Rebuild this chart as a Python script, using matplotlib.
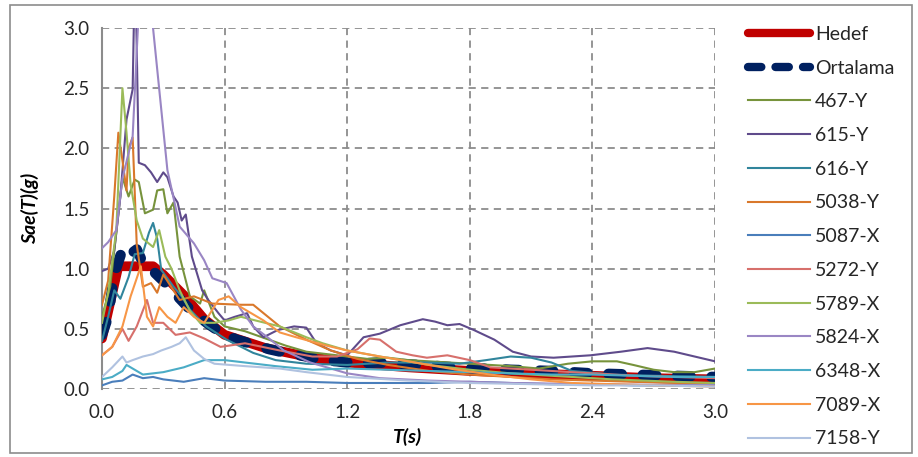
import matplotlib
matplotlib.use("Agg")
import matplotlib.pyplot as plt
from matplotlib.patches import Rectangle
from matplotlib.lines import Line2D

plt.rcParams['font.family'] = ['Lato', 'DejaVu Sans']

# ---------------- data ----------------
hedef_T = [0, 0.08, 0.25, 0.3, 0.4, 0.5, 0.6, 0.8, 1.0, 1.2, 1.5, 1.8, 2.1, 2.4, 2.7, 3.0]
hedef_S = [0.42, 1.02, 1.02, 0.95, 0.78, 0.58, 0.45, 0.34, 0.27, 0.22, 0.18, 0.15, 0.13, 0.11, 0.09, 0.08]

ort_T = [0, 0.03, 0.06, 0.1, 0.13, 0.17, 0.2, 0.25, 0.28, 0.33, 0.37, 0.42, 0.46, 0.52, 0.59, 0.66,
         0.74, 0.82, 0.9, 1.0, 1.07, 1.15, 1.25, 1.35, 1.45, 1.55, 1.65, 1.8, 1.9, 2.0, 2.2, 2.4,
         2.6, 2.8, 3.0]
ort_S = [0.45, 0.6, 0.95, 1.16, 1.11, 1.16, 1.05, 0.98, 0.93, 0.85, 0.77, 0.68, 0.62, 0.54, 0.46, 0.41,
         0.37, 0.33, 0.30, 0.27, 0.24, 0.23, 0.21, 0.22, 0.21, 0.20, 0.19, 0.17, 0.17, 0.16, 0.15, 0.13,
         0.12, 0.11, 0.10]

r467_T = [0, 0.04, 0.07, 0.1, 0.13, 0.16, 0.18, 0.21, 0.25, 0.27, 0.3, 0.32, 0.35, 0.38, 0.43, 0.48,
          0.5, 0.55, 0.6, 0.7, 0.8, 0.9, 1.0, 1.1, 1.2, 1.3, 1.4, 1.5, 1.6, 1.7, 1.8, 1.9, 2.0, 2.14,
          2.28, 2.4, 2.52, 2.6, 2.7, 2.8, 2.9, 3.0]
r467_S = [0.6, 0.85, 1.3, 1.76, 1.6, 1.74, 1.72, 1.46, 1.49, 1.65, 1.66, 1.46, 1.55, 1.1, 0.77, 0.71,
          0.82, 0.6, 0.52, 0.48, 0.42, 0.36, 0.31, 0.29, 0.27, 0.25, 0.26, 0.24, 0.23, 0.22, 0.21, 0.2,
          0.19, 0.17, 0.21, 0.23, 0.23, 0.2, 0.16, 0.14, 0.14, 0.17]

r615_T = [0, 0.03, 0.06, 0.09, 0.12, 0.15, 0.162, 0.18, 0.21, 0.24, 0.27, 0.3, 0.32, 0.35, 0.37, 0.39,
          0.41, 0.44, 0.49, 0.52, 0.57, 0.6, 0.65, 0.71, 0.74, 0.79, 0.86, 0.94, 1.0, 1.05, 1.12, 1.2,
          1.28, 1.36, 1.46, 1.57, 1.63, 1.69, 1.75, 1.82, 1.92, 2.01, 2.1, 2.21, 2.39, 2.54, 2.67, 2.8,
          2.9, 3.0]
r615_S = [0.98, 1.0, 1.15, 1.6, 2.24, 2.49, 3.6, 1.88, 1.86, 1.8, 1.72, 1.80, 1.76, 1.6, 1.55, 1.40,
          1.45, 1.10, 0.82, 0.74, 0.63, 0.57, 0.6, 0.63, 0.52, 0.43, 0.49, 0.52, 0.51, 0.38, 0.32, 0.28,
          0.43, 0.46, 0.53, 0.58, 0.56, 0.53, 0.54, 0.49, 0.41, 0.31, 0.27, 0.26, 0.28, 0.31, 0.34, 0.31,
          0.27, 0.23]

r616_T = [0, 0.03, 0.06, 0.09, 0.13, 0.16, 0.2, 0.23, 0.25, 0.27, 0.29, 0.32, 0.35, 0.39, 0.43, 0.51,
          0.61, 0.74, 0.85, 1.0, 1.2, 1.4, 1.6, 1.75, 1.88, 2.0, 2.1, 2.2, 2.3, 2.5, 2.7, 3.0]
r616_S = [0.4, 0.6, 0.82, 0.75, 0.93, 1.12, 1.13, 1.3, 1.38, 1.25, 0.99, 0.92, 0.85, 0.77, 0.66, 0.52,
          0.41, 0.3, 0.24, 0.21, 0.2, 0.22, 0.22, 0.21, 0.24, 0.27, 0.26, 0.22, 0.15, 0.12, 0.11, 0.1]

r5038_T = [0, 0.03, 0.06, 0.08, 0.1, 0.12, 0.13, 0.15, 0.17, 0.2, 0.24, 0.27, 0.3, 0.38, 0.45, 0.54,
           0.68, 0.74, 0.87, 1.0, 1.12, 1.25, 1.4, 1.6, 1.8, 2.0, 2.2, 2.4, 2.6, 2.8, 3.0]
r5038_S = [0.7, 0.9, 1.6, 2.13, 1.9, 1.65, 2.0, 2.09, 1.2, 0.85, 0.88, 0.8, 0.95, 0.74, 0.77, 0.71,
           0.70, 0.70, 0.52, 0.41, 0.32, 0.25, 0.2, 0.15, 0.12, 0.1, 0.08, 0.07, 0.06, 0.05, 0.05]

r5087_T = [0, 0.05, 0.1, 0.15, 0.2, 0.25, 0.3, 0.4, 0.5, 0.6, 0.8, 1.0, 1.2, 1.4, 1.6, 1.8, 2.0, 2.2,
           2.4, 2.6, 2.8, 3.0]
r5087_S = [0.03, 0.06, 0.07, 0.12, 0.09, 0.1, 0.08, 0.06, 0.09, 0.07, 0.06, 0.06, 0.05, 0.05, 0.05,
           0.06, 0.05, 0.04, 0.04, 0.03, 0.03, 0.03]

r5272_T = [0, 0.05, 0.1, 0.13, 0.17, 0.22, 0.25, 0.3, 0.36, 0.43, 0.5, 0.58, 0.7, 0.87, 1.03, 1.15,
           1.25, 1.31, 1.36, 1.44, 1.52, 1.59, 1.69, 1.8, 1.9, 2.0, 2.2, 2.4, 2.6, 2.8, 3.0]
r5272_S = [0.28, 0.35, 0.5, 0.4, 0.52, 0.74, 0.55, 0.55, 0.45, 0.47, 0.42, 0.35, 0.38, 0.32, 0.27, 0.27,
           0.33, 0.42, 0.41, 0.31, 0.28, 0.26, 0.28, 0.24, 0.18, 0.17, 0.15, 0.13, 0.11, 0.1, 0.09]

r5789_T = [0, 0.03, 0.07, 0.1, 0.12, 0.14, 0.17, 0.2, 0.25, 0.28, 0.31, 0.34, 0.38, 0.43, 0.48, 0.55,
           0.62, 0.68, 0.75, 0.87, 1.0, 1.08, 1.2, 1.36, 1.6, 1.8, 2.0, 2.2, 2.5, 2.8, 3.0]
r5789_S = [0.55, 0.8, 1.32, 2.5, 2.13, 1.7, 1.4, 1.25, 1.18, 1.32, 1.1, 1.0, 0.82, 0.65, 0.55, 0.55,
           0.57, 0.6, 0.57, 0.52, 0.43, 0.38, 0.32, 0.27, 0.2, 0.16, 0.13, 0.11, 0.08, 0.06, 0.05]

r5824_T = [0, 0.03, 0.07, 0.1, 0.13, 0.15, 0.19, 0.22, 0.32, 0.36, 0.38, 0.45, 0.5, 0.54, 0.61, 0.68,
           0.74, 0.81, 0.89, 1.02, 1.2, 1.36, 1.6, 1.8, 2.0, 2.4, 3.0]
r5824_S = [1.17, 1.22, 1.32, 1.75, 1.96, 2.1, 3.5, 3.5, 1.82, 1.51, 1.35, 1.21, 1.07, 0.92, 0.88, 0.66,
           0.52, 0.43, 0.32, 0.22, 0.13, 0.09, 0.07, 0.06, 0.05, 0.04, 0.03]

r6348_T = [0, 0.05, 0.1, 0.12, 0.16, 0.2, 0.3, 0.4, 0.5, 0.6, 0.7, 0.85, 1.03, 1.2, 1.4, 1.6, 1.8, 2.0,
           2.2, 2.4, 2.6, 2.8, 3.0]
r6348_S = [0.08, 0.1, 0.15, 0.2, 0.16, 0.12, 0.14, 0.18, 0.24, 0.24, 0.22, 0.19, 0.16, 0.17, 0.16, 0.15,
           0.14, 0.13, 0.12, 0.12, 0.11, 0.1, 0.1]

r7089_T = [0, 0.05, 0.1, 0.14, 0.19, 0.22, 0.25, 0.28, 0.32, 0.36, 0.4, 0.45, 0.5, 0.57, 0.62, 0.68,
           0.79, 0.87, 0.95, 1.1, 1.2, 1.36, 1.5, 1.7, 1.9, 2.1, 2.3, 2.5, 2.7, 3.0]
r7089_S = [0.28, 0.35, 0.52, 0.77, 1.02, 0.6, 0.52, 0.68, 0.6, 0.55, 0.68, 0.6, 0.55, 0.74, 0.77, 0.68,
           0.57, 0.47, 0.43, 0.36, 0.32, 0.27, 0.23, 0.17, 0.12, 0.08, 0.05, 0.04, 0.03, 0.02]

r7158_T = [0, 0.05, 0.1, 0.12, 0.15, 0.2, 0.25, 0.29, 0.34, 0.38, 0.41, 0.45, 0.5, 0.55, 0.7, 0.87,
           1.0, 1.2, 1.5, 1.8, 2.1, 2.4, 2.7, 3.0]
r7158_S = [0.1, 0.18, 0.27, 0.22, 0.24, 0.27, 0.29, 0.32, 0.35, 0.38, 0.43, 0.32, 0.25, 0.21, 0.19, 0.17,
           0.14, 0.1, 0.07, 0.05, 0.04, 0.03, 0.03, 0.02]

records = [
    ("467-Y", r467_T, r467_S, "#77933C"),
    ("615-Y", r615_T, r615_S, "#5F4B8B"),
    ("616-Y", r616_T, r616_S, "#31859C"),
    ("5038-Y", r5038_T, r5038_S, "#D9782B"),
    ("5087-X", r5087_T, r5087_S, "#4A7EBB"),
    ("5272-Y", r5272_T, r5272_S, "#D7706C"),
    ("5789-X", r5789_T, r5789_S, "#9BBB59"),
    ("5824-X", r5824_T, r5824_S, "#9A86C4"),
    ("6348-X", r6348_T, r6348_S, "#4BACC6"),
    ("7089-X", r7089_T, r7089_S, "#F79646"),
    ("7158-Y", r7158_T, r7158_S, "#B0C2E0"),
]

x_ticks = [0.0, 0.6, 1.2, 1.8, 2.4, 3.0]
y_ticks = [0.0, 0.5, 1.0, 1.5, 2.0, 2.5, 3.0]

# ---------------- figure ----------------
W, H = 918, 457
fig = plt.figure(figsize=(W / 100, H / 100), dpi=100)
fig.patch.set_facecolor("white")
fig.patches.append(Rectangle((10 / W, 4 / H), 902 / W, 448 / H, transform=fig.transFigure,
                             fill=False, edgecolor="#8C8C8C", linewidth=1.2))

ax = fig.add_axes([102 / W, 1 - 389 / H, (715 - 102) / W, (389 - 28) / H])
ax.set_xlim(0, 3.0)
ax.set_ylim(0, 3.0)

ax.plot(hedef_T, hedef_S, color="#C00000", lw=7, solid_capstyle="round", solid_joinstyle="round",
        label="Hedef", zorder=3)
ax.plot(ort_T, ort_S, color="#002060", lw=7.5, dashes=(1.3, 2.0), dash_capstyle="round",
        label="Ortalama", zorder=4)
for name, t, s, c in records:
    ax.plot(t, s, color=c, lw=1.5, label=name, zorder=5)

ax.set_xticks(x_ticks)
ax.set_yticks(y_ticks)
ax.set_xticklabels([f"{v:.1f}" for v in x_ticks])
ax.set_yticklabels([f"{v:.1f}" for v in y_ticks])
ax.tick_params(axis="both", length=0, labelsize=13.5, colors="#262626")
ax.tick_params(axis="y", pad=9)
ax.tick_params(axis="x", pad=11)
ax.grid(True, color="#8C8C8C", linestyle=(0, (4, 3)), linewidth=1.3, zorder=0)
ax.set_axisbelow(True)
for sp in ["top", "right", "bottom"]:
    ax.spines[sp].set_visible(False)
ax.spines["left"].set_color("#8C8C8C")
ax.spines["left"].set_linewidth(1.5)

fig.text(30 / W, 1 - 208 / H, "Sae(T)(g)", rotation=90, ha="center", va="center",
         fontsize=14, fontweight="bold", fontstyle="italic", color="#000000")
fig.text(408 / W, 1 - 437 / H, "T(s)", ha="center", va="center",
         fontsize=14, fontweight="bold", fontstyle="italic", color="#000000")

handles, labels = ax.get_legend_handles_labels()
handles[0] = Line2D([], [], color="#C00000", lw=6, solid_capstyle="round")
handles[1] = Line2D([], [], color="#002060", lw=6, dashes=(1.6, 1.7), dash_capstyle="round")
leg = fig.legend(handles, labels, loc="upper left", bbox_to_anchor=(740 / W, 1 - 18 / H),
                 bbox_transform=fig.transFigure, frameon=False, fontsize=14,
                 handlelength=3.2, handletextpad=0.25, labelspacing=0.86, borderaxespad=0)
for t in leg.get_texts():
    t.set_color("#262626")

fig.savefig("out.png", dpi=100, facecolor="white")
